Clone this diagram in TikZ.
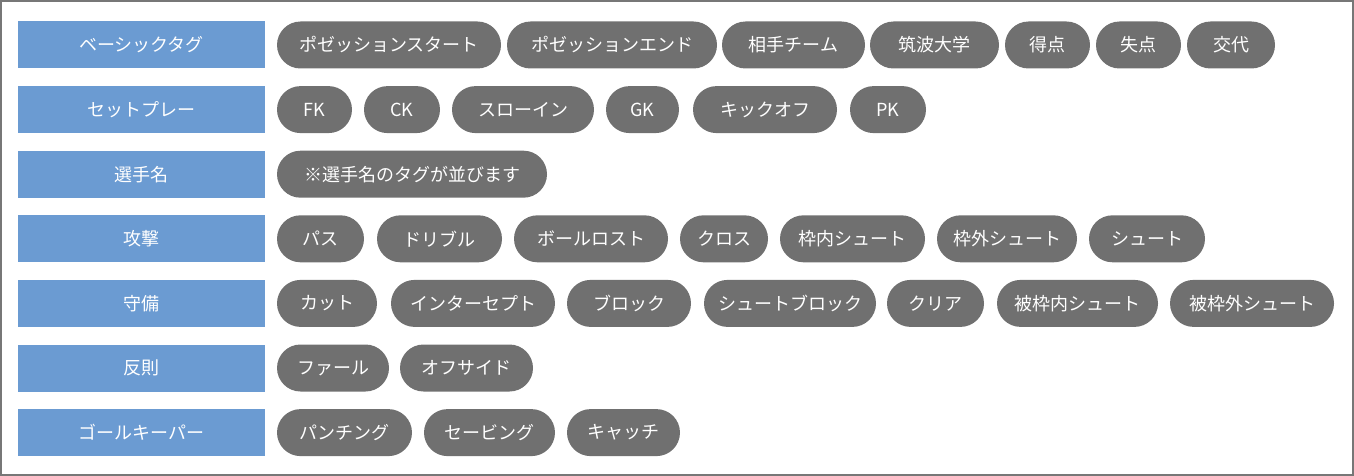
\documentclass[tikz,border=0pt]{standalone}
\usepackage{fontspec}
\setmainfont{Noto Sans CJK JP}
\usepackage{tikz}
\usetikzlibrary{shapes.misc}

\definecolor{labelblue}{HTML}{6B9BD2}
\definecolor{pillgray}{HTML}{707070}
\definecolor{framegray}{HTML}{777777}

\begin{document}
\begin{tikzpicture}[x=1pt,y=-1pt,
        rowlabel/.style={rectangle,fill=labelblue,minimum width=247pt,minimum height=47pt,inner sep=0pt,text=white,font=\fontsize{18pt}{20pt}\selectfont},
        tagpill/.style={rounded rectangle,fill=pillgray,minimum height=47pt,inner sep=0pt,text=white,font=\fontsize{18pt}{20pt}\selectfont}]
        \useasboundingbox (0,0) rectangle (1354,476);
        \draw[framegray,line width=2pt] (1,1) rectangle (1353,475);

        \node (basic) at (141.5,45) [rowlabel] {ベーシックタグ};
        \node (possStart) at (389,45) [tagpill,minimum width=224pt] {ポゼッションスタート};
        \node (possEnd) at (612,45) [tagpill,minimum width=210pt] {ポゼッションエンド};
        \node (opponent) at (793.5,45) [tagpill,minimum width=143pt] {相手チーム};
        \node (tsukuba) at (934.5,45) [tagpill,minimum width=129pt] {筑波大学};
        \node (score) at (1047.5,45) [tagpill,minimum width=85pt] {得点};
        \node (concede) at (1138.5,45) [tagpill,minimum width=85pt] {失点};
        \node (change) at (1231,45) [tagpill,minimum width=88pt] {交代};

        \node (setplay) at (141.5,109.6) [rowlabel] {セットプレー};
        \node (fk) at (314.5,109.6) [tagpill,minimum width=75pt] {FK};
        \node (ck) at (402,109.6) [tagpill,minimum width=76pt] {CK};
        \node (throwin) at (523,109.6) [tagpill,minimum width=142pt] {スローイン};
        \node (gk) at (642.5,109.6) [tagpill,minimum width=73pt] {GK};
        \node (kickoff) at (765,109.6) [tagpill,minimum width=144pt] {キックオフ};
        \node (pk) at (888,109.6) [tagpill,minimum width=76pt] {PK};

        \node (player) at (141.5,174.2) [rowlabel] {選手名};
        \node (playerTags) at (412,174.2) [tagpill,minimum width=270pt] {※選手名のタグが並びます};

        \node (attack) at (141.5,238.8) [rowlabel] {攻撃};
        \node (pass) at (320.5,238.8) [tagpill,minimum width=87pt] {パス};
        \node (dribble) at (439.5,238.8) [tagpill,minimum width=125pt] {ドリブル};
        \node (ballLost) at (591,238.8) [tagpill,minimum width=154pt] {ボールロスト};
        \node (cross) at (724,238.8) [tagpill,minimum width=88pt] {クロス};
        \node (shotOn) at (852.5,238.8) [tagpill,minimum width=145pt] {枠内シュート};
        \node (shotOff) at (1007,238.8) [tagpill,minimum width=140pt] {枠外シュート};
        \node (shot) at (1147,238.8) [tagpill,minimum width=116pt] {シュート};

        \node (defence) at (141.5,303.4) [rowlabel] {守備};
        \node (cut) at (327,303.4) [tagpill,minimum width=100pt] {カット};
        \node (intercept) at (473,303.4) [tagpill,minimum width=164pt] {インターセプト};
        \node (block) at (629,303.4) [tagpill,minimum width=124pt] {ブロック};
        \node (shotBlock) at (790,303.4) [tagpill,minimum width=172pt] {シュートブロック};
        \node (clear) at (935.5,303.4) [tagpill,minimum width=97pt] {クリア};
        \node (oppShotOn) at (1077.5,303.4) [tagpill,minimum width=161pt] {被枠内シュート};
        \node (oppShotOff) at (1252,303.4) [tagpill,minimum width=164pt] {被枠外シュート};

        \node (foulRow) at (141.5,368) [rowlabel] {反則};
        \node (foul) at (333,368) [tagpill,minimum width=112pt] {ファール};
        \node (offside) at (466.5,368) [tagpill,minimum width=133pt] {オフサイド};

        \node (keeper) at (141.5,432.6) [rowlabel] {ゴールキーパー};
        \node (punch) at (344.5,432.6) [tagpill,minimum width=135pt] {パンチング};
        \node (save) at (489.5,432.6) [tagpill,minimum width=131pt] {セービング};
        \node (catch) at (623.5,432.6) [tagpill,minimum width=113pt] {キャッチ};
    \end{tikzpicture}
\end{document}
